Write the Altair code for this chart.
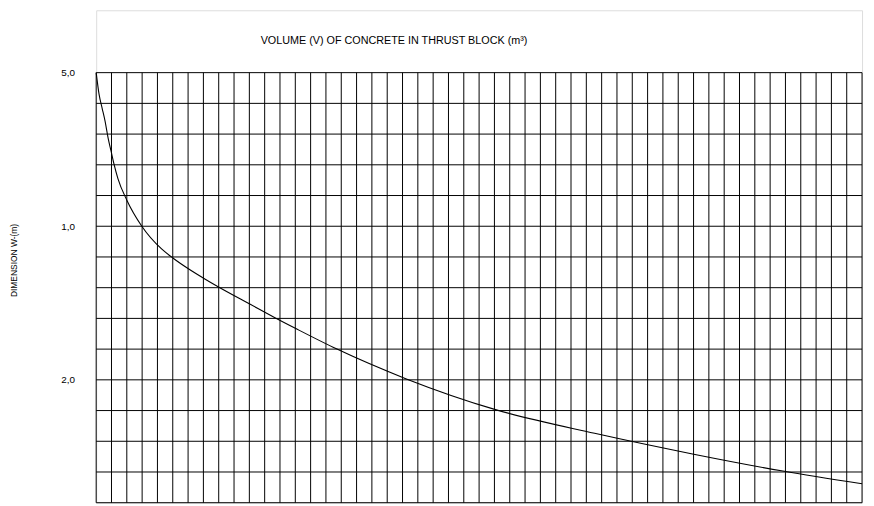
import altair as alt
import pandas as pd

# ---- data ----
TITLE = "VOLUME (V) OF CONCRETE IN THRUST BLOCK (m³)"
Y_TITLE = "DIMENSION W-(m)"

# curve: volume (grid columns) vs dimension W (m)
vol = [0.0, 0.19, 0.39, 0.58, 0.78, 0.97, 1.16, 1.42, 2.01, 2.98, 4.27, 5.05,
       6.02, 7.12, 7.96, 10.09, 11.64, 13.13, 15.72, 20.25, 26.07, 32.54,
       39.01, 44.83, 50.0]
dim = [0.0, 0.142, 0.232, 0.316, 0.426, 0.510, 0.594, 0.690, 0.832, 1.0,
       1.148, 1.210, 1.277, 1.345, 1.394, 1.510, 1.594, 1.671, 1.800, 1.994,
       2.194, 2.348, 2.484, 2.594, 2.677]

# grid lines
grid_cols = list(range(0, 51))
grid_rows = [0.0, 0.2, 0.4, 0.6, 0.8, 1.0, 1.2, 1.4, 1.6, 1.8, 2.0, 2.2, 2.4, 2.6, 2.8]

# y tick labels as printed on the chart
y_tick_values = [0, 1, 2]
y_tick_labels = ["5,0", "1,0", "2,0"]

FONT = "Liberation Sans"
X_MAX = 50
Y_MAX = 2.8
Y_TOP = -0.406  # header strip above the grid

label_expr = " : ".join(
    f"datum.value == {v} ? '{t}'" for v, t in zip(y_tick_values, y_tick_labels)
) + " : ''"

xs = alt.Scale(domain=[0, X_MAX], nice=False, zero=False)
ys = alt.Scale(domain=[Y_TOP, Y_MAX], reverse=True, nice=False, zero=False)

df_curve = pd.DataFrame({"v": vol, "w": dim})
df_cols = pd.DataFrame({"c": grid_cols, "y0": 0.0, "y1": Y_MAX})
df_rows = pd.DataFrame({"r": grid_rows, "x0": 0.0, "x1": float(X_MAX)})
df_title = pd.DataFrame({"t": [TITLE]})

y_axis = alt.Axis(
    values=y_tick_values,
    labelExpr=label_expr,
    ticks=False,
    domain=False,
    grid=False,
    labelPadding=22,
    labelFont=FONT,
    labelFontSize=10,
    labelColor="#000",
    title=Y_TITLE,
    titleFont=FONT,
    titleFontSize=8.5,
    titleFontWeight="normal",
    titleColor="#000",
    titleX=-83,
    titleY=252,
    titleAngle=270,
    titleAlign="center",
    titleBaseline="middle",
)

h_rules = alt.Chart(df_rows).mark_rule(color="#000", strokeWidth=1).encode(
    y=alt.Y("r:Q", scale=ys, axis=y_axis),
    x=alt.X("x0:Q", scale=xs, axis=None),
    x2="x1:Q",
)

v_rules = alt.Chart(df_cols).mark_rule(color="#000", strokeWidth=1).encode(
    x=alt.X("c:Q", scale=xs, axis=None),
    y=alt.Y("y0:Q", scale=ys),
    y2="y1:Q",
)

curve = alt.Chart(df_curve).mark_line(
    color="#000", strokeWidth=1.1, interpolate="monotone"
).encode(
    x=alt.X("v:Q", scale=xs, axis=None),
    y=alt.Y("w:Q", scale=ys),
    order=alt.Order("v:Q"),
)

header = alt.Chart(df_title).mark_text(
    font=FONT, fontSize=10.9, color="#000", align="left", baseline="middle"
).encode(
    text="t:N",
    x=alt.value(166),
    y=alt.value(31),
)

chart = alt.layer(h_rules, v_rules, curve, header).properties(
    width=773,
    height=497,
    autosize=alt.AutoSizeParams(type="none"),
    padding={"left": 89, "top": 0, "right": 4, "bottom": 0},
).configure_view(
    stroke="#000", strokeWidth=1
).configure(background="white")

chart.save("out.html", embed_options={"renderer": "svg", "actions": False})
